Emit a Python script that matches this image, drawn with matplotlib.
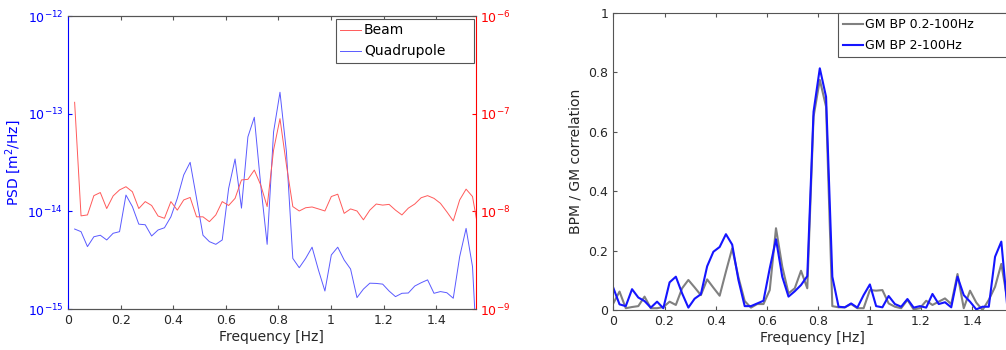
import numpy as np
import matplotlib
matplotlib.use("Agg")
import matplotlib.pyplot as plt
from matplotlib.ticker import FixedLocator, NullLocator

# frequency bins (100 Hz sampling, 4096 points)
df = 100 / 4096
freq_psd = np.arange(1, 65) * df
freq_corr = np.arange(0, 64) * df

beam_psd = [
    1.31e-7, 9.0e-9, 9.2e-9, 1.45e-8, 1.56e-8, 1.07e-8, 1.44e-8, 1.66e-8, 1.79e-8, 1.59e-8,
    1.07e-8, 1.26e-8, 1.15e-8, 8.97e-9, 8.5e-9, 1.26e-8, 1.03e-8, 1.31e-8, 1.39e-8, 8.8e-9,
    8.8e-9, 7.85e-9, 9.2e-9, 1.26e-8, 1.15e-8, 1.36e-8, 2.1e-8, 2.13e-8, 2.65e-8, 1.86e-8,
    1.12e-8, 4.25e-8, 8.9e-8, 3.0e-8, 1.12e-8, 1.01e-8, 1.09e-8, 1.11e-8, 1.06e-8, 1.01e-8,
    1.42e-8, 1.5e-8, 9.55e-9, 1.06e-8, 1.01e-8, 8.2e-9, 1.03e-8, 1.19e-8, 1.16e-8, 1.18e-8,
    1.03e-8, 9.2e-9, 1.08e-8, 1.19e-8, 1.38e-8, 1.45e-8, 1.36e-8, 1.21e-8, 9.9e-9, 8.0e-9,
    1.31e-8, 1.69e-8, 1.42e-8, 6.0e-9,
]
quad_psd = [
    6.6e-15, 6.2e-15, 4.36e-15, 5.5e-15, 5.7e-15, 5.1e-15, 5.97e-15, 6.2e-15, 1.47e-14, 1.12e-14,
    7.4e-15, 7.3e-15, 5.6e-15, 6.45e-15, 6.8e-15, 8.8e-15, 1.36e-14, 2.36e-14, 3.18e-14, 1.36e-14,
    5.7e-15, 4.9e-15, 4.6e-15, 5.1e-15, 1.72e-14, 3.44e-14, 1.08e-14, 5.8e-14, 9.2e-14, 1.86e-14,
    4.6e-15, 6.5e-14, 1.66e-13, 4.1e-14, 3.3e-15, 2.65e-15, 3.3e-15, 4.3e-15, 2.5e-15, 1.53e-15,
    3.58e-15, 4.3e-15, 3.18e-15, 2.57e-15, 1.31e-15, 1.6e-15, 1.84e-15, 1.83e-15, 1.8e-15, 1.53e-15,
    1.34e-15, 1.45e-15, 1.46e-15, 1.72e-15, 1.86e-15, 1.99e-15, 1.45e-15, 1.51e-15, 1.47e-15, 1.29e-15,
    3.44e-15, 6.7e-15, 2.72e-15, 1.5e-16,
]

corr_bp_02 = [
    0.022, 0.062, 0.006, 0.01, 0.013, 0.045, 0.006, 0.006, 0.01, 0.028,
    0.017, 0.073, 0.101, 0.076, 0.05, 0.103, 0.075, 0.048, 0.129, 0.207,
    0.11, 0.03, 0.008, 0.02, 0.02, 0.067, 0.275, 0.146, 0.056, 0.073,
    0.132, 0.073, 0.65, 0.774, 0.684, 0.013, 0.009, 0.009, 0.02, 0.006,
    0.006, 0.067, 0.065, 0.067, 0.022, 0.011, 0.006, 0.034, 0.002, 0.006,
    0.031, 0.017, 0.028, 0.039, 0.02, 0.121, 0.006, 0.065, 0.025, 0.0,
    0.034, 0.078, 0.155, 0.03,
]
corr_bp_2 = [
    0.075, 0.019, 0.013, 0.07, 0.042, 0.03, 0.008, 0.028, 0.006, 0.093,
    0.112, 0.056, 0.008, 0.038, 0.053, 0.147, 0.196, 0.212, 0.255, 0.22,
    0.101, 0.013, 0.013, 0.022, 0.031, 0.14, 0.238, 0.112, 0.045, 0.063,
    0.084, 0.114, 0.667, 0.813, 0.717, 0.112, 0.011, 0.009, 0.022, 0.008,
    0.05, 0.086, 0.013, 0.009, 0.047, 0.02, 0.011, 0.037, 0.008, 0.013,
    0.008, 0.054, 0.02, 0.026, 0.009, 0.112, 0.05, 0.028, 0.002, 0.011,
    0.011, 0.179, 0.23, 0.0,
]

xticks = [0, 0.2, 0.4, 0.6, 0.8, 1.0, 1.2, 1.4]
xtick_labels = ["0", "0.2", "0.4", "0.6", "0.8", "1", "1.2", "1.4"]
yticks_corr = [0, 0.2, 0.4, 0.6, 0.8, 1.0]
ytick_corr_labels = ["0", "0.2", "0.4", "0.6", "0.8", "1"]

text_color = "#262626"
frame_color = "#555555"

plt.rcParams["font.family"] = "DejaVu Sans"
plt.rcParams["font.size"] = 9
plt.rcParams["axes.linewidth"] = 0.8

fig = plt.figure(figsize=(10.06, 3.5), dpi=100)

# ---- left: PSD with two log axes
ax1 = fig.add_axes([0.0678, 0.117, 0.405, 0.837])
ax2 = ax1.twinx()

lq, = ax1.plot(freq_psd, quad_psd, color="#5a5aff", lw=0.7, label="Quadrupole")
lb, = ax2.plot(freq_psd, beam_psd, color="#ff5a5a", lw=0.7, label="Beam")

ax1.set_yscale("log")
ax2.set_yscale("log")
ax1.set_ylim(1e-15, 1e-12)
ax2.set_ylim(1e-9, 1e-6)
ax1.yaxis.set_major_locator(FixedLocator([1e-15, 1e-14, 1e-13, 1e-12]))
ax2.yaxis.set_major_locator(FixedLocator([1e-9, 1e-8, 1e-7, 1e-6]))
for a in (ax1, ax2):
    a.yaxis.set_minor_locator(NullLocator())
ax1.set_xlim(0, 1.55)
ax1.set_xticks(xticks)
ax1.set_xticklabels(xtick_labels)

ax1.tick_params(axis="x", direction="in", top=True, length=3, color=frame_color,
                labelcolor=text_color, labelsize=9)
ax1.tick_params(axis="y", direction="in", length=3, colors="blue", labelsize=9)
ax2.tick_params(axis="y", direction="in", length=3, colors="red", labelsize=9)

ax1.spines["left"].set_color("blue")
ax2.spines["left"].set_visible(False)
ax1.spines["right"].set_visible(False)
ax2.spines["right"].set_color("red")
for a in (ax1, ax2):
    a.spines["top"].set_color(frame_color)
    a.spines["bottom"].set_color(frame_color)

ax1.set_xlabel("Frequency [Hz]", fontsize=10, color=text_color, labelpad=2)
ax1.set_ylabel(r"PSD [m$\mathregular{^2}$/Hz]", fontsize=10, color="blue", labelpad=3)

# MATLAB-style legend box: wider than its contents
leg = ax2.legend([lb, lq], ["Beam", "Quadrupole"], loc="upper left", mode="expand",
                 bbox_to_anchor=(0.6575, 0, 0.3396, 0.989), borderaxespad=0,
                 fontsize=10, fancybox=False, edgecolor=frame_color, framealpha=1,
                 borderpad=0.3, handlelength=1.5, handletextpad=0.2)
leg.get_frame().set_linewidth(0.8)

# ---- right: correlation
ax3 = fig.add_axes([0.6096, 0.1143, 0.395, 0.8494])
ax3.plot(freq_corr, corr_bp_02, color="#808080", lw=1.5, label="GM BP 0.2-100Hz")
ax3.plot(freq_corr, corr_bp_2, color="#1515ff", lw=1.5, label="GM BP 2-100Hz")
ax3.set_xlim(0, 1.55)
ax3.set_ylim(0, 1)
ax3.set_xticks(xticks)
ax3.set_xticklabels(xtick_labels)
ax3.set_yticks(yticks_corr)
ax3.set_yticklabels(ytick_corr_labels)
ax3.tick_params(direction="in", top=True, right=True, length=3, color=frame_color,
                labelcolor=text_color, labelsize=9)
for s in ax3.spines.values():
    s.set_color(frame_color)
ax3.set_xlabel("Frequency [Hz]", fontsize=10, color=text_color, labelpad=2)
ax3.set_ylabel("BPM / GM correlation", fontsize=10, color=text_color, labelpad=4)

leg2 = ax3.legend(loc="upper left", mode="expand", bbox_to_anchor=(0.565, 0, 0.435, 0.998),
                  borderaxespad=0, fontsize=9, fancybox=False, edgecolor=frame_color,
                  framealpha=1, borderpad=0.4, labelspacing=0.65, handlelength=1.6,
                  handletextpad=0.15)
leg2.get_frame().set_linewidth(0.8)

fig.savefig("out.png", dpi=100)
